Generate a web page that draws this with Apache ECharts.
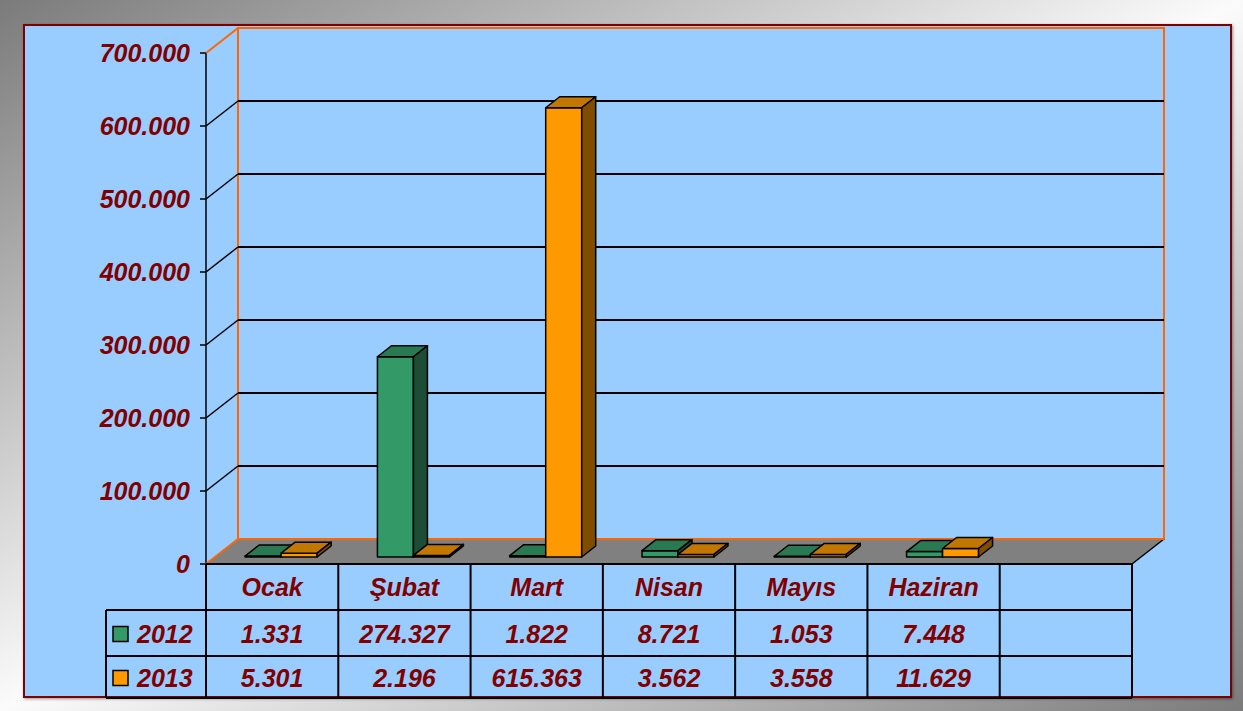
<!DOCTYPE html>
<html>
<head>
<meta charset="utf-8">
<script src="https://cdn.jsdelivr.net/npm/echarts@6/dist/echarts.min.js"></script>
<style>
    html, body { margin: 0; padding: 0; }
    body {
        width: 1243px; height: 711px; overflow: hidden;
        background: linear-gradient(to bottom right, #7b7b7b 0%, #fbfbfb 50%, #7b7b7b 100%);
    }
    #chart { width: 1243px; height: 711px; }
</style>
</head>
<body>
<div id="chart"></div>
<script>
    const categories = ['Ocak', 'Şubat', 'Mart', 'Nisan', 'Mayıs', 'Haziran', ''];
    const years = ['2012', '2013'];
    const values2012 = [1331, 274327, 1822, 8721, 1053, 7448];
    const values2013 = [5301, 2196, 615363, 3562, 3558, 11629];
    const yTicks = [0, 100000, 200000, 300000, 400000, 500000, 600000, 700000];

    const darkRed = '#800000';
    const fontFamily = '"Liberation Sans", Arial, sans-serif';
    const fontSize = 25;

    // layout of the 3d box
    const front = { left: 206, top: 53, width: 926, height: 511 };
    const depth = [32, -25];       // front plane -> back wall
    const barShift = [9, -7];      // front plane -> bar front faces
    const barDepth = [14, -11];
    const barW = 36;

    function fmt(n) {
        return String(n).replace(/\B(?=(\d{3})+(?!\d))/g, '.');
    }

    const lineStyle = { stroke: '#000', lineWidth: 1.5, lineJoin: 'round' };

    function barItem(side, colors) {
        return function (params, api) {
            const top = api.coord([api.value(0), api.value(1)]);
            const base = api.coord([api.value(0), 0]);
            const x0 = side === 0 ? top[0] - barW : top[0];
            const x1 = x0 + barW;
            const y0 = top[1], y1 = base[1];
            const dx = barDepth[0], dy = barDepth[1];
            return {
                type: 'group',
                children: [
                    { type: 'rect', shape: { x: x0, y: y0, width: barW, height: y1 - y0 }, style: Object.assign({ fill: colors[0] }, lineStyle) },
                    { type: 'polygon', shape: { points: [[x0, y0], [x1, y0], [x1 + dx, y0 + dy], [x0 + dx, y0 + dy]] }, style: Object.assign({ fill: colors[1] }, lineStyle) },
                    { type: 'polygon', shape: { points: [[x1, y0], [x1 + dx, y0 + dy], [x1 + dx, y1 + dy], [x1, y1]] }, style: Object.assign({ fill: colors[2] }, lineStyle) }
                ]
            };
        };
    }

    // side wall diagonals + floor, drawn on the back wall grid
    function wallItem(params, api) {
        const cs = params.coordSys;
        const v = api.value(0);
        const y = api.coord([0, v])[1];
        const x = cs.x;
        const isEdge = v === yTicks[0] || v === yTicks[yTicks.length - 1];
        const children = [];
        if (v === 0) {
            children.push({
                type: 'polygon',
                shape: { points: [[x, y], [x + cs.width, y], [x + cs.width - depth[0], y - depth[1]], [x - depth[0], y - depth[1]]] },
                style: { fill: '#808080', stroke: null }
            });
            children.push({ type: 'line', shape: { x1: x + cs.width, y1: y, x2: x + cs.width - depth[0], y2: y - depth[1] }, style: { stroke: '#000', lineWidth: 1.5 } });
            children.push({ type: 'line', shape: { x1: x, y1: y, x2: x + cs.width, y2: y }, style: { stroke: '#FF6600', lineWidth: 2 } });
        }
        children.push({
            type: 'line',
            shape: { x1: x, y1: y, x2: x - depth[0], y2: y - depth[1] },
            style: { stroke: isEdge ? '#FF6600' : '#000', lineWidth: isEdge ? 2 : 1.5 }
        });
        return { type: 'group', children: children };
    }

    // data table under the chart
    const colW = front.width / categories.length;
    const tBottom = front.top + front.height;
    const rowH = [46, 46, 42];
    const rowY = [tBottom, tBottom + rowH[0], tBottom + rowH[0] + rowH[1], tBottom + rowH[0] + rowH[1] + rowH[2]];
    const legendLeft = 106;
    const textStyle = { fontFamily: fontFamily, fontWeight: 'bold', fontStyle: 'italic', fontSize: fontSize, fill: darkRed, align: 'center', verticalAlign: 'middle' };
    const yearColors = ['#339966', '#FF9900'];
    const rows = [values2012, values2013];

    const graphics = [
        {
            type: 'rect', z: -10,
            shape: { x: 24, y: 25, width: 1207, height: 672 },
            style: { fill: '#99CCFF', stroke: darkRed, lineWidth: 2, shadowBlur: 3, shadowColor: 'rgba(0,0,0,0.4)', shadowOffsetX: 1, shadowOffsetY: 1 }
        }
    ];
    const tl = { stroke: '#000', lineWidth: 2 };
    // horizontal lines
    graphics.push({ type: 'line', z: 10, shape: { x1: front.left, y1: rowY[0], x2: front.left + front.width, y2: rowY[0] }, style: tl });
    for (let r = 1; r < rowY.length; r++) {
        graphics.push({ type: 'line', z: 10, shape: { x1: legendLeft, y1: rowY[r], x2: front.left + front.width, y2: rowY[r] }, style: tl });
    }
    // vertical lines
    graphics.push({ type: 'line', z: 10, shape: { x1: legendLeft, y1: rowY[1], x2: legendLeft, y2: rowY[3] }, style: tl });
    for (let c = 0; c <= categories.length; c++) {
        const x = front.left + c * colW;
        graphics.push({ type: 'line', z: 10, shape: { x1: x, y1: rowY[0], x2: x, y2: rowY[3] }, style: tl });
    }
    // header
    categories.forEach(function (name, i) {
        graphics.push({ type: 'text', z: 11, x: front.left + (i + 0.5) * colW, y: (rowY[0] + rowY[1]) / 2, style: Object.assign({ text: name }, textStyle) });
    });
    // rows
    rows.forEach(function (vals, r) {
        const cy = (rowY[r + 1] + rowY[r + 2]) / 2 + 1;
        graphics.push({ type: 'rect', z: 11, shape: { x: 113, y: cy - 7.5, width: 15, height: 15 }, style: { fill: yearColors[r], stroke: '#000', lineWidth: 1.5 } });
        graphics.push({ type: 'text', z: 11, x: 137, y: cy, style: Object.assign({ text: years[r] }, textStyle, { align: 'left' }) });
        vals.forEach(function (v, i) {
            graphics.push({ type: 'text', z: 11, x: front.left + (i + 0.5) * colW, y: cy, style: Object.assign({ text: fmt(v) }, textStyle) });
        });
    });

    const chart = echarts.init(document.getElementById('chart'), null, { renderer: 'svg' });
    const yMax = yTicks[yTicks.length - 1];
    const yInterval = yTicks[1] - yTicks[0];

    const hiddenCat = { type: 'category', data: categories, show: false, boundaryGap: true };
    const hiddenVal = { type: 'value', min: 0, max: yMax, interval: yInterval, show: false };

    chart.setOption({
        animation: false,
        backgroundColor: 'transparent',
        grid: [
            // back wall
            { left: front.left + depth[0], top: front.top + depth[1], width: front.width, height: front.height, show: true, borderColor: '#FF6600', borderWidth: 2, backgroundColor: 'transparent' },
            // bar plane
            { left: front.left + barShift[0], top: front.top + barShift[1], width: front.width, height: front.height },
            // front axis
            { left: front.left, top: front.top, width: front.width, height: front.height }
        ],
        xAxis: [
            Object.assign({ gridIndex: 0 }, hiddenCat),
            Object.assign({ gridIndex: 1 }, hiddenCat),
            Object.assign({ gridIndex: 2 }, hiddenCat)
        ],
        yAxis: [
            {
                gridIndex: 0, type: 'value', min: 0, max: yMax, interval: yInterval,
                axisLine: { show: false }, axisTick: { show: false }, axisLabel: { show: false },
                splitLine: { show: true, showMinLine: false, showMaxLine: false, lineStyle: { color: '#000', width: 2 } }
            },
            Object.assign({ gridIndex: 1 }, hiddenVal),
            {
                gridIndex: 2, type: 'value', min: 0, max: yMax, interval: yInterval,
                axisLine: { show: true, lineStyle: { color: '#000', width: 1.5 } },
                axisTick: { show: true, length: 6, lineStyle: { color: '#000', width: 1.5 } },
                splitLine: { show: false },
                axisLabel: {
                    margin: 16, color: darkRed, fontFamily: fontFamily, fontWeight: 'bold', fontStyle: 'italic', fontSize: fontSize,
                    formatter: function (v) { return fmt(v); }
                }
            }
        ],
        graphic: graphics,
        series: [
            {
                type: 'custom', name: 'wall', xAxisIndex: 0, yAxisIndex: 0, z: 1,
                renderItem: wallItem,
                encode: { x: 0, y: 0 },
                data: yTicks.map(function (v) { return [v]; })
            },
            {
                type: 'custom', name: years[0], xAxisIndex: 1, yAxisIndex: 1, z: 3,
                renderItem: barItem(0, ['#339966', '#297A52', '#1E4D36']),
                encode: { x: 0, y: 1 },
                data: values2012.map(function (v, i) { return [i, v]; })
            },
            {
                type: 'custom', name: years[1], xAxisIndex: 1, yAxisIndex: 1, z: 3,
                renderItem: barItem(1, ['#FF9900', '#C27800', '#7F4C00']),
                encode: { x: 0, y: 1 },
                data: values2013.map(function (v, i) { return [i, v]; })
            }
        ]
    });
</script>
</body>
</html>
